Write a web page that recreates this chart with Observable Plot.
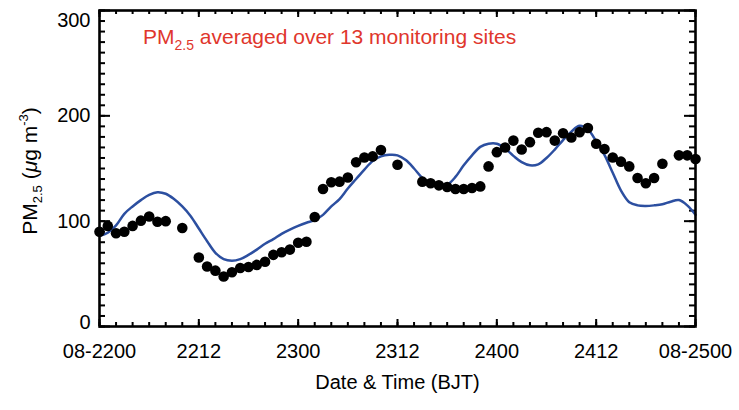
<!DOCTYPE html>
<html>
<head>
<meta charset="utf-8">
<script src="https://cdn.jsdelivr.net/npm/d3@7"></script>
<script src="https://cdn.jsdelivr.net/npm/@observablehq/plot@0.6"></script>
<style>
  body { margin: 0; background: #fff; }
  #chart svg { display: block; }
</style>
</head>
<body>
<div id="chart"></div>
<script>
// Observed hourly PM2.5 (hours since 08-22 00:00 BJT), averaged over 13 sites
const obsHour = [0, 1, 2, 3, 4, 5, 6, 7, 8, 10, 12, 13, 14, 15, 16, 17, 18, 19, 20, 21, 22, 23, 24, 25, 26,
  27, 28, 29, 30, 31, 32, 33, 34, 36, 39, 40, 41, 42, 43, 44, 45, 46, 47, 48, 49, 50, 51, 52, 53, 54,
  55, 56, 57, 58, 59, 60, 61, 62, 63, 64, 65, 66, 67, 68, 70, 71, 72];
const obsPM25 = [90, 95.5, 88.5, 90, 95.5, 100.5, 104.5, 99.5, 100, 93.5, 65.5, 57, 53, 47.5, 51.5, 55.5, 56.5, 58.5, 61.5, 68, 70.5, 73, 79.5, 80.5, 104,
  130.5, 137, 137.5, 141.5, 156, 160.5, 161.5, 167.5, 153.5, 137.5, 136, 134, 132.5, 130.5, 130.5, 131.5, 133, 152, 165.5, 170, 176.5, 168, 175, 184, 184.5,
  176.5, 183.5, 179.5, 184.5, 188.5, 173.5, 168.5, 160.5, 156.5, 152, 141, 136, 141, 154.5, 162.5, 162.5, 159];

// Modelled PM2.5, hourly
const modelHour = [0, 1, 2, 3, 4, 5, 6, 7, 8, 9, 10, 11, 12, 13, 14, 15, 16, 17, 18, 19, 20, 21, 22, 23, 24,
  25, 26, 27, 28, 29, 30, 31, 32, 33, 34, 35, 36, 37, 38, 39, 40, 41, 42, 43, 44, 45, 46, 47, 48,
  49, 50, 51, 52, 53, 54, 55, 56, 57, 58, 59, 60, 61, 62, 63, 64, 65, 66, 67, 68, 69, 70, 71, 72];
const modelPM25 = [86, 89, 96, 107, 114, 120, 125, 127.5, 126, 121, 114, 105, 93, 81, 70, 64, 62.5, 64, 68, 73, 78.5, 83, 88, 92, 95.5,
  98.5, 101, 106, 114, 121, 131, 140, 149, 157, 161.5, 163, 162.5, 158, 150, 141, 135, 133, 134.5, 142, 153, 162.5, 170.5, 173.5, 173.5,
  169, 162, 156, 153, 154, 160, 168, 177, 185, 190.5, 187, 176, 163, 146, 129, 118, 115, 114.5, 115, 116, 118.5, 120, 115, 106];

// Axis ticks
const xTickHours = [0, 12, 24, 36, 48, 60, 72];
const xTickLabels = ["08-2200", "2212", "2300", "2312", "2400", "2412", "08-2500"];
const xMinorHours = d3.range(0, 73, 2);
const yTickValues = [0, 100, 200, 300];
const yMinorValues = d3.range(0, 301, 10);

const W = 739, H = 410;
const M = {top: 10, right: 44, bottom: 84, left: 99};
const innerW = W - M.left - M.right;
const innerH = H - M.top - M.bottom;
const FONT = "'Liberation Sans', Helvetica, Arial, sans-serif";

const obs = obsHour.map((h, i) => ({h, v: obsPM25[i]}));
const model = modelHour.map((h, i) => ({h, v: modelPM25[i]}));
const xLabels = xTickHours.map((h, i) => ({h, label: xTickLabels[i]}));

const tickStyle = {stroke: "black", strokeWidth: 2};

const chart = Plot.plot({
  width: W,
  height: H,
  marginTop: M.top,
  marginRight: M.right,
  marginBottom: M.bottom,
  marginLeft: M.left,
  style: {fontFamily: FONT, background: "#fff", color: "black"},
  x: {domain: [0, 72], axis: null},
  y: {domain: [0, 300], axis: null},
  marks: [
    // inward ticks: bottom & top (minor every 2 h, major every 12 h)
    Plot.tickX(xMinorHours, {x: d => d, insetTop: innerH - 4, ...tickStyle}),
    Plot.tickX(xMinorHours, {x: d => d, insetBottom: innerH - 4, ...tickStyle}),
    Plot.tickX(xTickHours, {x: d => d, insetTop: innerH - 7, ...tickStyle}),
    Plot.tickX(xTickHours, {x: d => d, insetBottom: innerH - 7, ...tickStyle}),
    // inward ticks: left & right (minor every 10, major every 100)
    Plot.tickY(yMinorValues, {y: d => d, insetRight: innerW - 6, ...tickStyle}),
    Plot.tickY(yMinorValues, {y: d => d, insetLeft: innerW - 6, ...tickStyle}),
    Plot.tickY(yTickValues, {y: d => d, insetRight: innerW - 11, ...tickStyle}),
    Plot.tickY(yTickValues, {y: d => d, insetLeft: innerW - 11, ...tickStyle}),
    // model line and observed points
    Plot.line(model, {x: "h", y: "v", stroke: "#2c4fa0", strokeWidth: 2.5, curve: "catmull-rom"}),
    Plot.dot(obs, {x: "h", y: "v", r: 5.3, fill: "black", stroke: "none"}),
    Plot.frame({stroke: "black", strokeWidth: 2.6}),
    // tick labels
    Plot.text(xLabels, {x: "h", text: "label", frameAnchor: "bottom", dy: 31, fontSize: 20, fill: "black"}),
    Plot.text(yTickValues.filter(v => v > 0 && v < 300), {y: d => d, text: d => String(d), frameAnchor: "left", textAnchor: "end", dx: -9, fontSize: 20, fill: "black"}),
    Plot.text([300], {y: d => d, text: d => String(d), frameAnchor: "left", textAnchor: "end", dx: -9, dy: 10, fontSize: 20, fill: "black"}),
    Plot.text([0], {y: d => d, text: d => String(d), frameAnchor: "left", textAnchor: "end", dx: -9, dy: -4, fontSize: 20, fill: "black"}),
    // x-axis title
    Plot.text(["Date & Time (BJT)"], {frameAnchor: "bottom", dy: 62, fontSize: 20, fill: "black"})
  ]
});

document.getElementById("chart").append(chart);

// Rich-text labels with sub/superscripts
const svg = d3.select(chart);

const title = svg.append("text")
  .attr("x", 143).attr("y", 44)
  .attr("text-anchor", "start")
  .attr("fill", "#e0362c")
  .attr("font-family", FONT)
  .attr("font-size", 21);
title.append("tspan").text("PM");
title.append("tspan").attr("font-size", 14).attr("dy", 6).text("2.5");
title.append("tspan").attr("dy", -6).text(" averaged over 13 monitoring sites");

const yTitle = svg.append("text")
  .attr("transform", "translate(37,171) rotate(-90)")
  .attr("text-anchor", "middle")
  .attr("fill", "black")
  .attr("font-family", FONT)
  .attr("font-size", 21);
yTitle.append("tspan").text("PM");
yTitle.append("tspan").attr("font-size", 13).attr("dy", 5).text("2.5");
yTitle.append("tspan").attr("dy", -5).text(" (");
yTitle.append("tspan").attr("font-style", "italic").text("\u03bc");
yTitle.append("tspan").text("g m");
yTitle.append("tspan").attr("font-size", 13).attr("dy", -9).text("-3");
yTitle.append("tspan").attr("dy", 9).text(")");
</script>
</body>
</html>
